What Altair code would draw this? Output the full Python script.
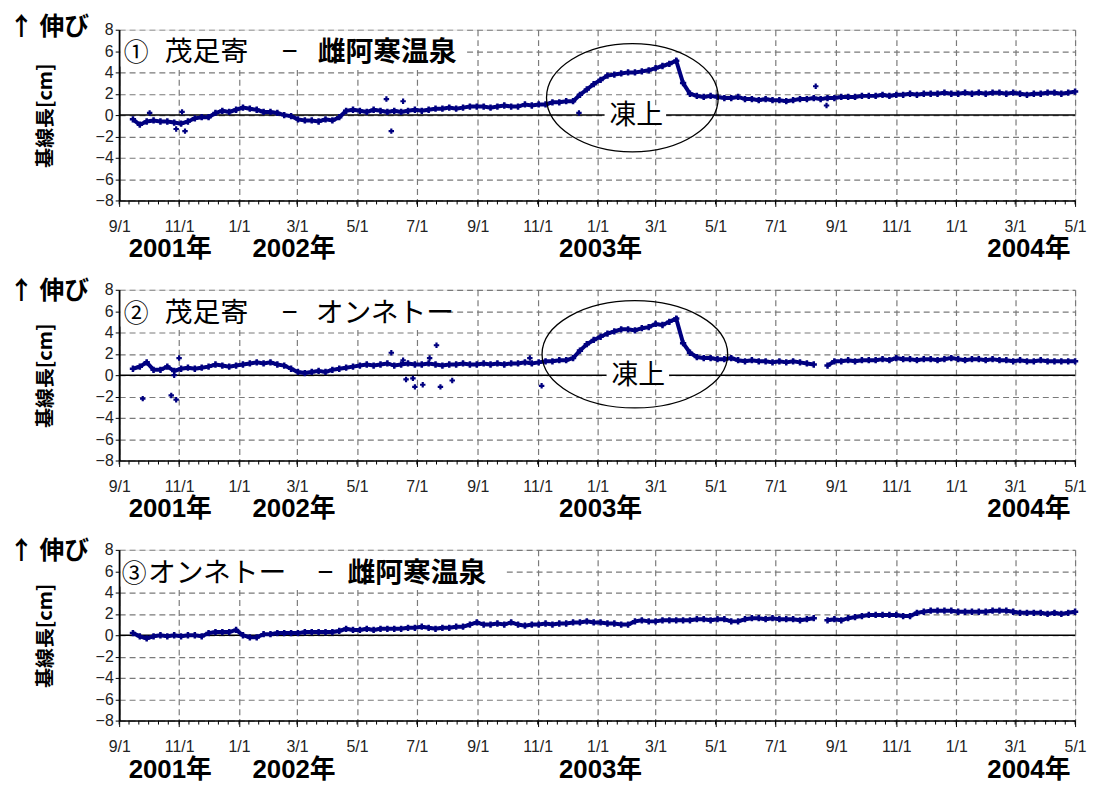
import altair as alt
import pandas as pd

# ---------------- data ----------------
WEEK_START = "2001-09-15"          # weekly samples, 138 weeks

P1_VALUES = [
    -0.4, -0.9, -0.6, -0.5, -0.6, -0.6, -0.7, -0.8, -0.6, -0.3,
    -0.2, -0.2, 0.2, 0.4, 0.3, 0.5, 0.7, 0.6, 0.5, 0.3,
    0.3, 0.2, 0.0, -0.1, -0.4, -0.5, -0.5, -0.6, -0.4, -0.5,
    -0.2, 0.4, 0.5, 0.4, 0.3, 0.5, 0.4, 0.3, 0.4, 0.3,
    0.4, 0.5, 0.4, 0.5, 0.6, 0.6, 0.7, 0.6, 0.7, 0.8,
    0.8, 0.8, 0.7, 0.8, 0.9, 0.8, 0.8, 1.0, 0.9, 1.0,
    1.0, 1.2, 1.2, 1.3, 1.3, 1.9, 2.4, 2.9, 3.3, 3.7,
    3.8, 3.9, 4.0, 4.0, 4.1, 4.2, 4.4, 4.6, 4.8, 5.1,
    3.0, 2.0, 1.8, 1.7, 1.8, 1.7, 1.6, 1.6, 1.7, 1.5,
    1.5, 1.4, 1.5, 1.4, 1.4, 1.3, 1.4, 1.5, 1.5, 1.6,
    1.5, 1.6, 1.6, 1.7, 1.7, 1.7, 1.8, 1.8, 1.8, 1.9,
    1.8, 1.9, 1.9, 2.0, 1.9, 2.0, 2.0, 2.0, 2.1, 2.0,
    2.0, 2.1, 2.0, 2.1, 2.0, 2.1, 2.1, 2.0, 2.1, 2.0,
    1.9, 2.0, 2.0, 2.1, 2.1, 2.0, 2.1, 2.2,
]

P2_VALUES = [
    0.6, 0.8, 1.2, 0.5, 0.5, 0.8, 0.4, 0.6, 0.7, 0.6,
    0.7, 0.8, 1.0, 0.9, 0.8, 0.9, 1.0, 1.1, 1.2, 1.1,
    1.2, 1.0, 0.9, 0.6, 0.3, 0.2, 0.3, 0.4, 0.3, 0.5,
    0.6, 0.7, 0.8, 0.9, 1.0, 0.9, 1.0, 1.1, 0.9, 1.0,
    1.1, 1.0, 1.0, 1.1, 1.0, 0.9, 1.0, 1.0, 1.1, 1.0,
    1.0, 1.1, 1.0, 1.1, 1.0, 1.1, 1.1, 1.2, 1.1, 1.2,
    1.3, 1.3, 1.4, 1.4, 1.6, 2.3, 2.9, 3.3, 3.6, 3.9,
    4.1, 4.3, 4.3, 4.2, 4.4, 4.5, 4.8, 4.7, 5.0, 5.3,
    3.0, 2.1, 1.7, 1.6, 1.6, 1.5, 1.5, 1.6, 1.4, 1.3,
    1.4, 1.3, 1.3, 1.2, 1.3, 1.2, 1.3, 1.2, 1.1, 1.0,
    None, 0.9, 1.3, 1.3, 1.4, 1.3, 1.4, 1.4, 1.4, 1.5,
    1.4, 1.6, 1.5, 1.5, 1.4, 1.5, 1.5, 1.4, 1.5, 1.6,
    1.5, 1.4, 1.5, 1.5, 1.4, 1.5, 1.4, 1.4, 1.3, 1.4,
    1.3, 1.3, 1.4, 1.3, 1.3, 1.3, 1.3, 1.3,
]

P3_VALUES = [
    0.2, -0.1, -0.3, -0.1, 0.0, -0.1, 0.0, -0.1, 0.0, 0.0,
    -0.1, 0.2, 0.3, 0.3, 0.3, 0.5, 0.0, -0.2, -0.2, 0.1,
    0.1, 0.2, 0.2, 0.2, 0.2, 0.3, 0.3, 0.3, 0.3, 0.3,
    0.4, 0.6, 0.5, 0.5, 0.6, 0.5, 0.6, 0.6, 0.6, 0.6,
    0.7, 0.7, 0.8, 0.7, 0.6, 0.7, 0.7, 0.8, 0.8, 1.0,
    1.2, 1.0, 1.0, 1.1, 1.0, 1.2, 1.0, 0.9, 1.0, 1.0,
    1.1, 1.0, 1.1, 1.1, 1.2, 1.2, 1.3, 1.2, 1.2, 1.1,
    1.1, 1.0, 1.0, 1.3, 1.4, 1.3, 1.3, 1.4, 1.4, 1.4,
    1.4, 1.4, 1.5, 1.5, 1.4, 1.5, 1.5, 1.3, 1.3, 1.5,
    1.6, 1.6, 1.5, 1.6, 1.5, 1.5, 1.5, 1.4, 1.5, 1.6,
    None, 1.4, 1.5, 1.4, 1.6, 1.7, 1.8, 1.9, 1.9, 1.9,
    1.9, 1.9, 1.8, 1.8, 2.1, 2.2, 2.3, 2.3, 2.3, 2.3,
    2.2, 2.2, 2.2, 2.2, 2.2, 2.3, 2.3, 2.3, 2.2, 2.1,
    2.1, 2.1, 2.1, 2.0, 2.1, 2.0, 2.1, 2.2,
]

P1_OUT_DATES = ["2001-10-02", "2001-11-04", "2001-11-07", "2001-10-29", "2002-05-31",
                "2002-06-17", "2002-06-05", "2002-12-13", "2003-08-11", "2003-08-22"]
P1_OUT_VALUES = [0.2, 0.3, -1.5, -1.3, 1.5, 1.3, -1.5, 0.2, 2.7, 0.9]

P2_OUT_DATES = ["2001-09-25", "2001-10-24", "2001-10-29", "2001-11-01", "2001-10-27",
                "2002-06-05", "2002-06-17", "2002-06-20", "2002-06-27", "2002-06-29",
                "2002-07-07", "2002-07-14", "2002-07-21", "2002-07-25", "2002-08-06",
                "2002-10-24", "2002-11-05"]
P2_OUT_VALUES = [-2.2, -1.9, -2.3, 1.6, 0.0, 2.1, 1.4, -0.4, -0.3, -1.1,
                 -0.9, 1.6, 2.8, -1.1, -0.5, 1.6, -1.0]

P3_OUT_DATES = []
P3_OUT_VALUES = []

X_TICK_DATES = ["2001-09-01", "2001-11-01", "2002-01-01", "2002-03-01", "2002-05-01",
                "2002-07-01", "2002-09-01", "2002-11-01", "2003-01-01", "2003-03-01",
                "2003-05-01", "2003-07-01", "2003-09-01", "2003-11-01", "2004-01-01",
                "2004-03-01", "2004-05-01"]
Y_TICKS = [-8, -6, -4, -2, 0, 2, 4, 6, 8]

YEAR_LABELS = ["2001年", "2002年", "2003年", "2004年"]
YEAR_LABEL_DATES = ["2001-10-23", "2002-02-26", "2003-01-04", "2004-03-15"]

# panel titles: circled number (centre x) and pieces (text, left x, bold?)
TITLE_NUMBERS = [("①", 17), ("②", 17), ("③", 15)]
TITLE_PIECES = [
    [("茂足寄", 46, False), ("−", 164, False), ("雌阿寒温泉", 200, True)],
    [("茂足寄", 46, False), ("−", 164, False), ("オンネトー", 198, False)],
    [("オンネトー", 29, False), ("−", 200, False), ("雌阿寒温泉", 230, True)],
]
FROST_LABEL = "凍上"
ARROW_LABEL = "↑ 伸び"
Y_TITLE = "基線長[cm]"

# ---------------- layout / style ----------------
W, H = 963, 172
NAVY = "#000080"
JP = "Noto Sans CJK JP"
LAT = "Liberation Sans"
GRID = "#7a7a7a"


def dt(s):
    y, m, d = (int(p) for p in s.split("-"))
    return alt.DateTime(year=y, month=m, date=d)


MINOR_TICK_DATES = []
for yy, mm in [(2001, m) for m in range(9, 13)] + [(2002, m) for m in range(1, 13)] + \
        [(2003, m) for m in range(1, 13)] + [(2004, m) for m in range(1, 5)]:
    for dd in (1, 11, 21):
        MINOR_TICK_DATES.append(f"{yy}-{mm:02d}-{dd:02d}")
MINOR_TICK_DATES.append("2004-05-01")

XSCALE = alt.Scale(domain=[dt("2001-09-01"), dt("2004-05-01")], nice=False)
YSCALE = alt.Scale(domain=[-8, 8], nice=False, zero=False)

XAXIS = alt.Axis(values=[dt(s) for s in X_TICK_DATES], format="%-m/%-d", title=None,
                 grid=True, tickSize=6, labelPadding=12, labelFlush=False,
                 labelFont=LAT, labelFontSize=16, labelColor="#222",
                 domainColor="black", domainWidth=1.5, tickColor="black",
                 gridColor=GRID, gridDash=[6, 4], gridWidth=1.2)
YAXIS = alt.Axis(values=Y_TICKS, title=Y_TITLE, titleFont=JP, titleFontSize=20,
                 titleFontWeight="bold", titleColor="black", titleX=-74, titleY=H / 2,
                 titleAngle=270, titleAlign="center", titleBaseline="middle",
                 grid=True, tickSize=4, labelPadding=2, labelFont=LAT, labelFontSize=16,
                 labelColor="#222", domainColor="black", domainWidth=2, tickColor="black",
                 gridColor=GRID, gridDash=[6, 4], gridWidth=1.2)


def xenc():
    return alt.X("date:T", scale=XSCALE, axis=XAXIS)


def yenc():
    return alt.Y("value:Q", scale=YSCALE, axis=YAXIS)


def ellipse_path(r):
    k = 0.5523
    return (f"M -1 0 C -1 {-r*k:.3f} {-k:.3f} {-r:.3f} 0 {-r:.3f} "
            f"C {k:.3f} {-r:.3f} 1 {-r*k:.3f} 1 0 "
            f"C 1 {r*k:.3f} {k:.3f} {r:.3f} 0 {r:.3f} "
            f"C {-k:.3f} {r:.3f} -1 {r*k:.3f} -1 0 Z")


def one(txt=""):
    return pd.DataFrame({"t": [txt]})


def panel(values, out_dates, out_vals, number, pieces, box_w, arrow_y, year_y, frost=None):
    dates = pd.date_range(WEEK_START, periods=len(values), freq="7D")
    df = pd.DataFrame({"date": dates, "value": values})
    df["seg"] = df["value"].isna().cumsum()
    df = df.dropna()

    layers = []
    minor = alt.Chart(pd.DataFrame({"date": pd.to_datetime(MINOR_TICK_DATES)})).mark_rule(
        color="black", strokeWidth=1).encode(x=xenc(), y=alt.value(H), y2=alt.value(H + 4))
    layers.append(minor)

    zero = alt.Chart(pd.DataFrame({"value": [0]})).mark_rule(
        color="black", strokeWidth=1.5).encode(y=yenc())
    layers.append(zero)

    box = alt.Chart(one()).mark_rect(fill="white").encode(
        x=alt.value(1.5), x2=alt.value(box_w), y=alt.value(1), y2=alt.value(37))
    layers.append(box)

    num_txt, num_x = number
    layers.append(alt.Chart(one(num_txt)).mark_text(
        align="center", baseline="middle", font=JP, fontSize=25, color="black").encode(
        x=alt.value(num_x), y=alt.value(24), text="t:N"))
    for txt, px, bold in pieces:
        layers.append(alt.Chart(one(txt)).mark_text(
            align="left", baseline="middle", font=JP, fontSize=28,
            fontWeight="bold" if bold else "normal", color="black").encode(
            x=alt.value(px), y=alt.value(24), text="t:N"))

    if frost is not None:
        fx, fy, gx0, gx1 = frost["label"]
        layers.append(alt.Chart(one()).mark_rect(fill="white").encode(
            x=alt.value(gx0), x2=alt.value(gx1), y=alt.value(fy - 10), y2=alt.value(fy + 10)))
        layers.append(alt.Chart(one(FROST_LABEL)).mark_text(
            align="center", baseline="middle", font=JP, fontSize=27, color="black").encode(
            x=alt.value(fx), y=alt.value(fy + 1), text="t:N"))

    line = alt.Chart(df).mark_line(color=NAVY, strokeWidth=4).encode(
        x=xenc(), y=yenc(), detail="seg:N")
    pts = alt.Chart(df).mark_point(shape="cross", filled=True, size=40, color=NAVY,
                                   opacity=1).encode(x=xenc(), y=yenc())
    layers += [line, pts]
    if out_dates:
        odf = pd.DataFrame({"date": pd.to_datetime(out_dates), "value": out_vals})
        layers.append(alt.Chart(odf).mark_point(shape="cross", filled=True, size=30,
                                                color=NAVY, opacity=1).encode(x=xenc(), y=yenc()))

    if frost is not None:
        cx, cy, rx, ratio = frost["ellipse"]
        layers.append(alt.Chart(one()).mark_point(
            shape=ellipse_path(ratio), size=(2 * rx) ** 2, filled=False, stroke="black",
            strokeWidth=1.3, opacity=1).encode(x=alt.value(cx), y=alt.value(cy)))

    ydf = pd.DataFrame({"date": pd.to_datetime(YEAR_LABEL_DATES), "label": YEAR_LABELS})
    layers.append(alt.Chart(ydf).mark_text(
        align="center", baseline="alphabetic", font=f"{LAT}, {JP}", fontSize=26,
        fontWeight="bold", color="black").encode(
        x=xenc(), y=alt.value(H + year_y), text="label:N"))

    layers.append(alt.Chart(one(ARROW_LABEL)).mark_text(
        align="left", baseline="middle", font=JP, fontSize=25, fontWeight="bold",
        color="black").encode(x=alt.value(-111), y=alt.value(arrow_y), text="t:N"))

    return alt.layer(*layers).properties(width=W, height=H)


p1 = panel(P1_VALUES, P1_OUT_DATES, P1_OUT_VALUES, TITLE_NUMBERS[0], TITLE_PIECES[0], 350, -3, 57,
           frost={"label": (521, 86, 489, 551), "ellipse": (517, 68.5, 86.5, 0.63)})
p2 = panel(P2_VALUES, P2_OUT_DATES, P2_OUT_VALUES, TITLE_NUMBERS[1], TITLE_PIECES[1], 330, 1, 57,
           frost={"label": (523, 86, 491, 554), "ellipse": (519.5, 65, 93.5, 0.578)})
p3 = panel(P3_VALUES, P3_OUT_DATES, P3_OUT_VALUES, TITLE_NUMBERS[2], TITLE_PIECES[2], 390, 1.5, 58)

chart = alt.VConcatChart(vconcat=[p1, p2, p3], spacing=90, bounds="flush").configure_view(
    stroke="black", strokeWidth=1).configure(font=JP).properties(
    padding={"left": 0, "top": 3, "right": 0, "bottom": 0})

chart.save("out.html", embed_options={"renderer": "svg", "actions": False})
